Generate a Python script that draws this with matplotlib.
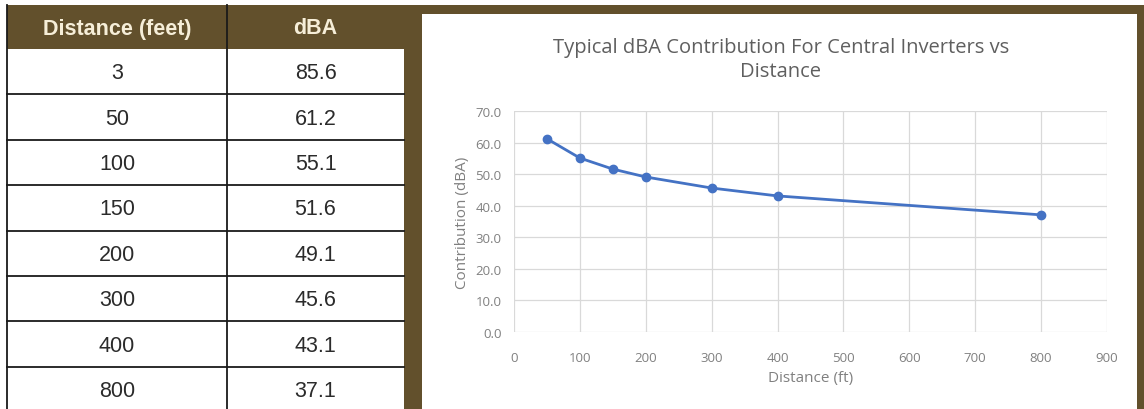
import matplotlib.pyplot as plt
from matplotlib.patches import Rectangle
from matplotlib.ticker import FormatStrFormatter

distance = [3, 50, 100, 150, 200, 300, 400, 800]
dba = [85.6, 61.2, 55.1, 51.6, 49.1, 45.6, 43.1, 37.1]
headers = ["Distance (feet)", "dBA"]
title = "Typical dBA Contribution For Central Inverters vs\nDistance"

brown = "#62502c"
W, H = 1144, 410

fig = plt.figure(figsize=(W / 100, H / 100), dpi=100)

# background layer in pixel coords
bg = fig.add_axes([0, 0, 1, 1])
bg.set_xlim(0, W)
bg.set_ylim(H, 0)
bg.axis("off")

# table
tx0, tx1, tx2 = 7, 227, 404
hy0, hy1, rh = 6, 50, 45.4
bg.add_patch(Rectangle((tx0, hy0), tx2 - tx0, hy1 - hy0, color=brown, lw=0))
for i, h in enumerate(headers):
    cx = (tx0 + tx1) / 2 if i == 0 else (tx1 + tx2) / 2
    bg.text(cx, (hy0 + hy1) / 2 + 1, h, ha="center", va="center", fontsize=15.5,
            fontweight="bold", color="#f6eed8", family="Liberation Sans")
for i, (d, v) in enumerate(zip(distance, dba)):
    y0 = hy1 + i * rh
    cy = y0 + rh / 2 + 1
    bg.text((tx0 + tx1) / 2, cy, str(d), ha="center", va="center", fontsize=15.5,
            color="#2b2b2b", family="Liberation Sans")
    bg.text((tx1 + tx2) / 2, cy, f"{v:.1f}", ha="center", va="center", fontsize=15.5,
            color="#2b2b2b", family="Liberation Sans")
    bg.plot([tx0, tx2], [y0 + rh, y0 + rh], color="#1a1a1a", lw=1.3)
bg.plot([tx0, tx0], [hy0, H], color="#1a1a1a", lw=1.3)
bg.plot([tx1, tx1], [hy0, H], color="#1a1a1a", lw=1.3)

# chart frame
bg.add_patch(Rectangle((404, 6), W - 404, H - 6, color=brown, lw=0))
bg.add_patch(Rectangle((422, 15), 1137 - 422, H - 15, color="white", lw=0))
bg.text(781, 60, title, ha="center", va="center", fontsize=14.5, color="#5f5f5f",
        family="Open Sans", linespacing=1.3)

ax = fig.add_axes([514 / W, (H - 333) / H, 593 / W, 221 / H])
ax.plot(distance[1:], dba[1:], color="#4472c4", lw=2, marker="o", ms=6,
        markerfacecolor="#4472c4", markeredgecolor="#4472c4")
ax.set_xlim(0, 900)
ax.set_ylim(0, 70)
ax.set_xticks(range(0, 901, 100))
ax.set_yticks(range(0, 71, 10))
ax.yaxis.set_major_formatter(FormatStrFormatter("%.1f"))
ax.grid(True, color="#d9d9d9", lw=0.9)
ax.set_axisbelow(True)
for s in ax.spines.values():
    s.set_visible(False)
ax.tick_params(length=0, labelsize=9.5, labelcolor="#808080", pad=9)
ax.tick_params(axis="x", pad=14)
for lab in ax.get_xticklabels() + ax.get_yticklabels():
    lab.set_family("Open Sans")
ax.set_xlabel("Distance (ft)", fontsize=11, color="#808080", family="Open Sans", labelpad=4)
ax.set_ylabel("Contribution (dBA)", fontsize=11, color="#808080", family="Open Sans", labelpad=4)

fig.savefig("out.png", dpi=100)
